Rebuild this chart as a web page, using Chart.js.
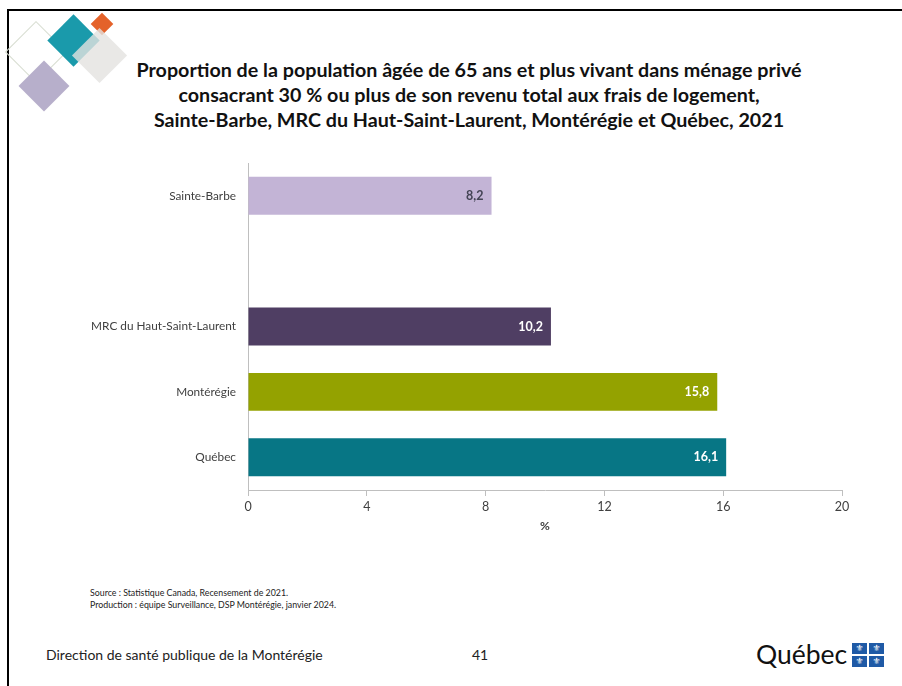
<!DOCTYPE html>
<html>
<head>
<meta charset="utf-8">
<script src="https://cdn.jsdelivr.net/npm/chart.js@4"></script>
<style>
  body { margin: 0; width: 902px; height: 686px; background: #fff; position: relative; overflow: hidden; font-family: Lato, "Open Sans", sans-serif; }
  .frame-top { position: absolute; left: 7px; top: 9px; width: 900px; height: 2px; background: #000; }
  .frame-left { position: absolute; left: 7px; top: 9px; width: 2px; height: 690px; background: #000; }
  .dia { position: absolute; transform: rotate(45deg); }
  #title { position: absolute; left: 72px; top: 58px; width: 794px; text-align: center; font-weight: bold; font-size: 19.7px; line-height: 24.8px; color: #111; }
  #wrap { position: absolute; left: 60px; top: 150px; width: 820px; height: 390px; }
  #wrap canvas { display: block; }
  .note { position: absolute; left: 90px; font-size: 8.8px; color: #222; }
  .foot { position: absolute; top: 646px; font-size: 14px; color: #222; }
  .qc { position: absolute; left: 756px; top: 638px; font-family: Lato, sans-serif; font-size: 26.5px; color: #111; }
  .flag { position: absolute; left: 852px; top: 643px; width: 32px; height: 24px; display: grid; grid-template-columns: 15px 15px; grid-template-rows: 11px 11px; gap: 2px; }
  .flag span { background: #1f5aa6; color: #fff; font-size: 9px; line-height: 11px; text-align: center; font-family: "DejaVu Sans"; }
</style>
</head>
<body>
<div class="frame-top"></div>
<div class="frame-left"></div>

<div class="dia" style="left:14px;top:30px;width:42px;height:42px;border:1.5px solid #d6dccf;"></div>
<div class="dia" style="left:55px;top:22px;width:37px;height:37px;background:#1a9aab;"></div>
<div class="dia" style="left:94px;top:16px;width:16px;height:16px;background:#e4622a;"></div>
<div class="dia" style="left:80px;top:36px;width:39px;height:39px;background:rgba(228,226,224,0.8);"></div>
<div class="dia" style="left:26px;top:68px;width:36px;height:36px;background:#b7afcb;"></div>

<div id="title">Proportion de la population âgée de 65 ans et plus vivant dans ménage privé<br>consacrant 30 % ou plus de son revenu total aux frais de logement,<br>Sainte-Barbe, MRC du Haut-Saint-Laurent, Montérégie et Québec, 2021</div>

<div id="wrap"><canvas id="chart"></canvas></div>

<div class="note" style="top:587px;">Source : Statistique Canada, Recensement de 2021.</div>
<div class="note" style="top:599px;">Production : équipe Surveillance, DSP Montérégie, janvier 2024.</div>

<div class="foot" style="left:46px;">Direction de santé publique de la Montérégie</div>
<div class="foot" style="left:472px;">41</div>
<div class="qc">Québec</div>
<div class="flag"><span>⚜</span><span>⚜</span><span>⚜</span><span>⚜</span></div>

<script>
const categories = ['Sainte-Barbe', '', 'MRC du Haut-Saint-Laurent', 'Montérégie', 'Québec'];
const values = [8.2, null, 10.2, 15.8, 16.1];
const barColors = ['#c3b4d6', '#ffffff', '#4f3e63', '#94a200', '#077685'];
const labelColors = ['#444455', '#ffffff', '#ffffff', '#ffffff', '#ffffff'];
const xTicks = [0, 4, 8, 12, 16, 20];

// valeurs écrites au bout de chaque barre
const barLabels = {
  id: 'barLabels',
  afterDatasetsDraw(chart) {
    const ctx = chart.ctx;
    const meta = chart.getDatasetMeta(0);
    ctx.save();
    ctx.font = 'bold 12.5px Lato, sans-serif';
    ctx.textAlign = 'right';
    ctx.textBaseline = 'middle';
    meta.data.forEach((bar, i) => {
      if (values[i] == null) return;
      ctx.fillStyle = labelColors[i];
      ctx.fillText(values[i].toFixed(1).replace('.', ','), bar.x - 8, bar.y);
    });
    ctx.restore();
  }
};

new Chart(document.getElementById('chart'), {
  type: 'bar',
  data: {
    labels: categories,
    datasets: [{
      data: values,
      backgroundColor: barColors,
      borderColor: barColors,
      borderWidth: 0,
      categoryPercentage: 1,
      barPercentage: 0.58
    }]
  },
  options: {
    indexAxis: 'y',
    responsive: true,
    maintainAspectRatio: false,
    animation: false,
    layout: { padding: { top: 13, right: 38, bottom: 0, left: 0 } },
    plugins: { legend: { display: false }, tooltip: { enabled: false } },
    scales: {
      x: {
        min: 0,
        max: 20,
        afterBuildTicks: (scale) => { scale.ticks = xTicks.map(v => ({ value: v })); },
        afterFit: (scale) => { scale.height = 50; },
        grid: { drawOnChartArea: false, tickLength: 6, color: '#bfbfbf' },
        border: { color: '#bfbfbf' },
        ticks: { color: '#404040', font: { size: 12.5, family: 'Lato' }, padding: 3 },
        title: { display: true, text: '%', color: '#404040', font: { size: 12, weight: 'bold', family: 'Lato' }, padding: { top: 0, bottom: 7 } }
      },
      y: {
        afterFit: (scale) => { scale.width = 188; scale.paddingTop = 0; scale.paddingBottom = 0; },
        grid: { display: false, drawTicks: false },
        border: { color: '#bfbfbf' },
        ticks: { color: '#404040', font: { size: 11.8, family: 'Lato' }, padding: 12 }
      }
    }
  },
  plugins: [barLabels]
});
</script>
</body>
</html>
